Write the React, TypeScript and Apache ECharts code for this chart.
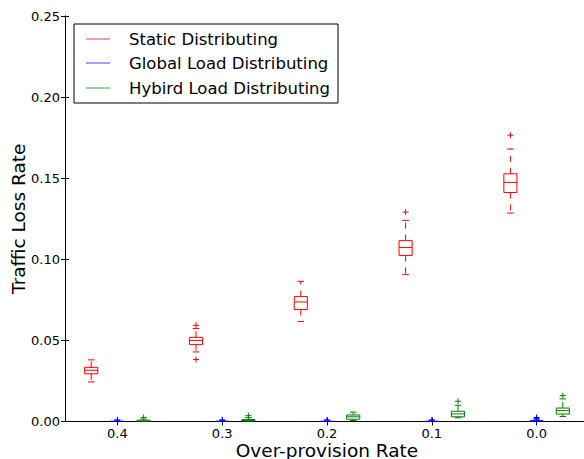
import React, { useEffect, useRef } from 'react';
import * as echarts from 'echarts';

const xTickLabels = ['0.4', '0.3', '0.2', '0.1', '0.0'];
const seriesNames = ['Static Distributing', 'Global Load Distributing', 'Hybird Load Distributing'];
const seriesColors = ['#ff0000', '#0000ff', '#008000'];

// [lower whisker, Q1, median, Q3, upper whisker] per over-provision rate
const staticBoxes = [
  [0.0244, 0.0294, 0.0316, 0.0334, 0.038],
  [0.0429, 0.0474, 0.05, 0.0519, 0.0573],
  [0.0616, 0.069, 0.0737, 0.077, 0.0864],
  [0.0907, 0.1024, 0.1073, 0.1115, 0.124],
  [0.1285, 0.1412, 0.1474, 0.1527, 0.168],
];
const staticOutliers = [[], [0.0593, 0.0382], [], [0.1291], [0.1765]];

const globalBoxes = [
  [0, 0, 0, 0.0002, 0.0004],
  [0, 0, 0, 0.0002, 0.0004],
  [0, 0, 0, 0.0002, 0.0004],
  [0, 0, 0, 0.0002, 0.0004],
  [0, 0, 0.0002, 0.0005, 0.001],
];
const globalOutliers = [[0.001], [0.001], [0.001], [0.001], [0.0018, 0.0025]];

const hybridBoxes = [
  [0, 0, 0.0003, 0.0008, 0.0015],
  [0, 0.0002, 0.0006, 0.0012, 0.0024],
  [0.0006, 0.0014, 0.0029, 0.004, 0.0058],
  [0.0023, 0.0029, 0.0047, 0.0063, 0.01],
  [0.0031, 0.0046, 0.0067, 0.0083, 0.0139],
];
const hybridOutliers = [[0.0025], [0.0036], [], [0.0125], [0.016]];

const allBoxes = [staticBoxes, globalBoxes, hybridBoxes];
const allOutliers = [staticOutliers, globalOutliers, hybridOutliers];

const FONT = 'DejaVu Sans';

function boxPos(group: number, s: number) {
  return group * 4 + s + 1;
}

export default function App() {
  const ref = useRef<HTMLDivElement>(null);
  useEffect(() => {
    if (!ref.current) return;
    const chart = echarts.init(ref.current, undefined, { renderer: 'svg' });

    const series: any[] = [];
    allBoxes.forEach((boxes, s) => {
      const color = seriesColors[s];
      series.push({
        type: 'custom',
        name: seriesNames[s],
        clip: true,
        z: 5,
        xAxisIndex: 0,
        yAxisIndex: 0,
        data: boxes.map((b, g) => [boxPos(g, s), ...b]),
        renderItem: (params: any, api: any) => {
          const x = api.value(0);
          const pLo = api.coord([x, api.value(1)]);
          const pQ1 = api.coord([x, api.value(2)]);
          const pMed = api.coord([x, api.value(3)]);
          const pQ3 = api.coord([x, api.value(4)]);
          const pHi = api.coord([x, api.value(5)]);
          const w = api.size([0.5, 0])[0];
          const cx = pLo[0];
          const half = w / 2;
          const cap = w / 4;
          const ls = { stroke: color, lineWidth: 1, fill: 'none' };
          const ds = { stroke: color, lineWidth: 1, lineDash: [6, 6], fill: 'none' };
          return {
            type: 'group',
            children: [
              { type: 'line', shape: { x1: cx, y1: pQ3[1], x2: cx, y2: pHi[1] }, style: ds },
              { type: 'line', shape: { x1: cx, y1: pQ1[1], x2: cx, y2: pLo[1] }, style: ds },
              { type: 'line', shape: { x1: cx - cap, y1: pHi[1], x2: cx + cap, y2: pHi[1] }, style: ls },
              { type: 'line', shape: { x1: cx - cap, y1: pLo[1], x2: cx + cap, y2: pLo[1] }, style: ls },
              { type: 'rect', shape: { x: cx - half, y: pQ3[1], width: w, height: pQ1[1] - pQ3[1] }, style: ls },
              { type: 'line', shape: { x1: cx - half, y1: pMed[1], x2: cx + half, y2: pMed[1] }, style: ls },
            ],
          };
        },
      });
      const outData: number[][] = [];
      allOutliers[s].forEach((vals, g) => vals.forEach((v) => outData.push([boxPos(g, s), v])));
      series.push({
        type: 'custom',
        name: seriesNames[s] + ' outliers',
        clip: true,
        z: 5,
        data: outData,
        renderItem: (params: any, api: any) => {
          const p = api.coord([api.value(0), api.value(1)]);
          const r = 3;
          const st = { stroke: color, lineWidth: 1 };
          return {
            type: 'group',
            children: [
              { type: 'line', shape: { x1: p[0] - r, y1: p[1], x2: p[0] + r, y2: p[1] }, style: st },
              { type: 'line', shape: { x1: p[0], y1: p[1] - r, x2: p[0], y2: p[1] + r }, style: st },
            ],
          };
        },
      });
    });

    const tickVals = xTickLabels.map((_, g) => boxPos(g, 1));
    const axisLine = { show: true, lineStyle: { color: '#000', width: 1 } };
    const legendX = 74, legendY = 24;
    const rowY = [39, 63, 88];

    chart.setOption({
      animation: false,
      grid: { left: 65, top: 16, width: 524, height: 405.5, outerBoundsMode: 'none', containLabel: false },
      xAxis: [
        {
          type: 'value',
          position: 'bottom',
          min: 0,
          max: 20,
          axisLine,
          splitLine: { show: false },
          axisTick: { show: true, inside: true, length: 4, customValues: tickVals, lineStyle: { color: '#000' } },
          axisLabel: {
            customValues: tickVals,
            formatter: (v: number) => xTickLabels[Math.round((v - 2) / 4)] ?? '',
            color: '#000',
            fontSize: 13,
            lineHeight: 13,
            fontFamily: FONT,
            margin: 5,
          },
          name: 'Over-provision Rate',
          nameLocation: 'middle',
          nameGap: 20,
          nameMoveOverlap: false,
          nameTextStyle: { fontSize: 18.5, lineHeight: 18.5, fontFamily: FONT, color: '#000', verticalAlign: 'top' },
        },
        {
          type: 'value',
          position: 'top',
          min: 0,
          max: 20,
          axisLine,
          splitLine: { show: false },
          axisTick: { show: true, inside: true, length: 4, customValues: tickVals, lineStyle: { color: '#000' } },
          axisLabel: { show: false },
        },
      ],
      yAxis: [
        {
          type: 'value',
          position: 'left',
          min: 0,
          max: 0.25,
          interval: 0.05,
          axisLine,
          splitLine: { show: false },
          axisTick: { show: true, inside: true, length: 4, lineStyle: { color: '#000' } },
          axisLabel: {
            formatter: (v: number) => v.toFixed(2),
            color: '#000',
            fontSize: 13,
            fontFamily: FONT,
            margin: 5,
          },
          name: 'Traffic Loss Rate',
          nameLocation: 'middle',
          nameGap: 37,
          nameMoveOverlap: false,
          nameTextStyle: { fontSize: 18.5, fontFamily: FONT, color: '#000' },
        },
        {
          type: 'value',
          position: 'right',
          min: 0,
          max: 0.25,
          interval: 0.05,
          axisLine,
          splitLine: { show: false },
          axisTick: { show: true, inside: true, length: 4, lineStyle: { color: '#000' } },
          axisLabel: { show: false },
        },
      ],
      series,
      graphic: [
        {
          type: 'group',
          children: [
            {
              type: 'rect',
              shape: { x: legendX, y: legendY, width: 264, height: 79 },
              style: { fill: '#fff', stroke: '#000', lineWidth: 1 },
              z: 100,
            },
            ...seriesNames.flatMap((name, i) => [
              {
                type: 'line',
                shape: { x1: 86, y1: rowY[i], x2: 110, y2: rowY[i] },
                style: { stroke: seriesColors[i], lineWidth: 1, opacity: 0.75 },
                z: 101,
              },
              {
                type: 'text',
                x: 129,
                y: rowY[i],
                style: {
                  text: name,
                  fontSize: 16.5,
                  fontFamily: FONT,
                  fill: '#000',
                  verticalAlign: 'middle',
                  align: 'left',
                },
                z: 101,
              },
            ]),
          ],
        },
      ],
    });
    return () => chart.dispose();
  }, []);
  return <div ref={ref} style={{ position: 'absolute', left: 0, top: 0, width: 584, height: 459 }} />;
}
